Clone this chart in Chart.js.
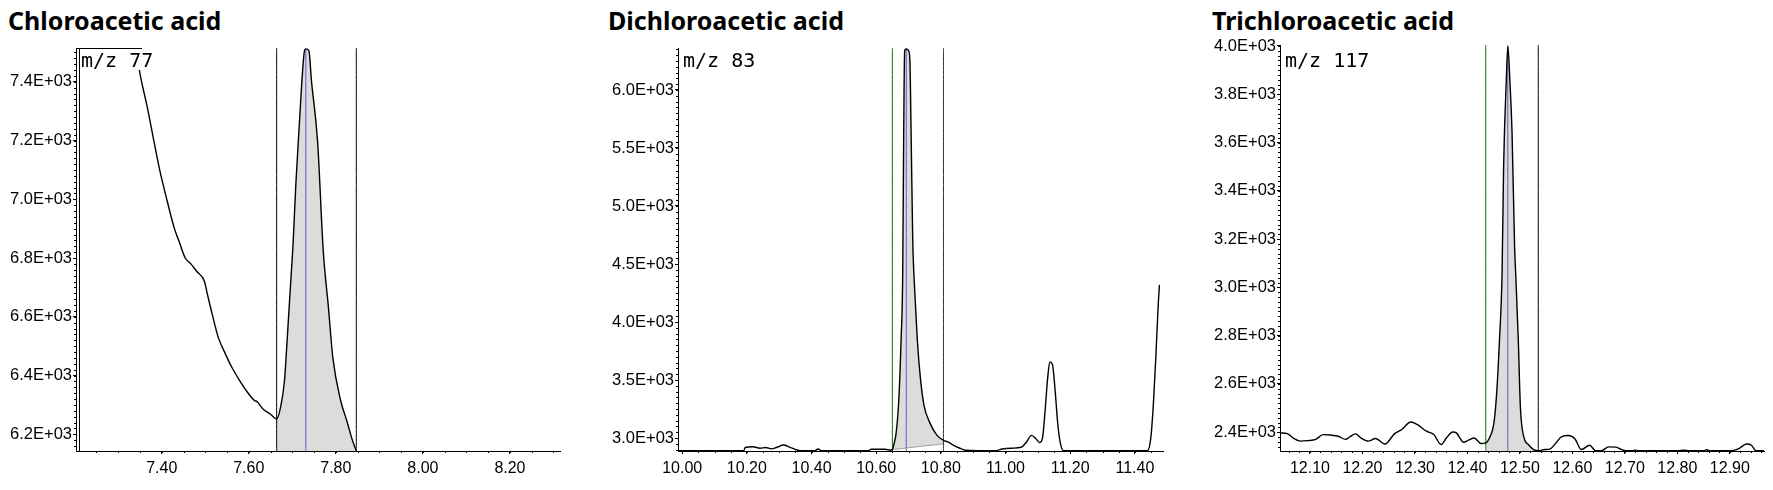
<!DOCTYPE html>
<html lang="en">
<head>
<meta charset="utf-8">
<title>Haloacetic acids - SIM chromatograms</title>
<script src="https://cdn.jsdelivr.net/npm/chart.js@4.4.1/dist/chart.umd.min.js"></script>
<style>
  body { margin: 0; background: #fff; width: 1773px; height: 490px; overflow: hidden; position: relative; }
  .title { position: absolute; top: 4px; font-family: "Noto Sans", sans-serif; font-weight: bold;
           font-size: 25px; line-height: 32px; color: #000; white-space: nowrap; }
  canvas { position: absolute; top: 0; }
</style>
</head>
<body>
  <div class="title" style="left:8px">Chloroacetic acid</div>
  <div class="title" style="left:608px">Dichloroacetic acid</div>
  <div class="title" style="left:1212px">Trichloroacetic acid</div>
  <canvas id="c1" width="590" height="490" style="left:0px"></canvas>
  <canvas id="c2" width="590" height="490" style="left:600px"></canvas>
  <canvas id="c3" width="573" height="490" style="left:1200px"></canvas>

<script>
// ---- Chloroacetic acid, m/z 77 ----
const time1 = [7.340, 7.351, 7.367, 7.382, 7.396, 7.409, 7.429, 7.440, 7.454, 7.467, 7.480, 7.498,
  7.505, 7.516, 7.530, 7.543, 7.561, 7.579, 7.597, 7.613, 7.619, 7.632, 7.650, 7.664, 7.673, 7.682,
  7.688, 7.695, 7.702, 7.708, 7.717, 7.722, 7.728, 7.731, 7.738, 7.744, 7.758, 7.771, 7.783, 7.793,
  7.811, 7.825, 7.838, 7.847];
const resp1 = [7520, 7420, 7312, 7198, 7095, 7015, 6901, 6856, 6800, 6780, 6755, 6721,
  6676, 6608, 6529, 6484, 6428, 6383, 6343, 6315, 6311, 6287, 6268, 6252, 6292, 6383,
  6518, 6687, 6856, 7049, 7278, 7403, 7506, 7512, 7506, 7403, 7198, 6826, 6631, 6462,
  6315, 6247, 6180, 6143];
const xTicks1 = [7.40, 7.60, 7.80, 8.00, 8.20];
const yTicks1 = [6200, 6400, 6600, 6800, 7000, 7200, 7400];

// ---- Dichloroacetic acid, m/z 83 ----
const time2 = [9.987, 10.190, 10.195, 10.218, 10.241, 10.258, 10.276, 10.293, 10.313, 10.333, 10.351,
  10.368, 10.410, 10.420, 10.431, 10.575, 10.585, 10.627, 10.644, 10.650, 10.654, 10.662, 10.670,
  10.677, 10.682, 10.685, 10.688, 10.693, 10.700, 10.704, 10.708, 10.713, 10.719, 10.727, 10.737,
  10.748, 10.765, 10.788, 10.808, 10.822, 10.840, 10.857, 10.875, 10.967, 10.990, 11.019, 11.048,
  11.065, 11.080, 11.094, 11.105, 11.114, 11.122, 11.130, 11.137, 11.145, 11.153, 11.162, 11.171,
  11.180, 11.439, 11.449, 11.457, 11.465, 11.472, 11.476];
const resp2 = [2890, 2890, 2918, 2924, 2912, 2918, 2906, 2920, 2940, 2920, 2900,
  2890, 2890, 2905, 2890, 2890, 2903, 2903, 2895, 2900, 2937, 3051, 3337,
  3850, 4420, 5620, 6340, 6354, 6340, 6268, 5620, 4705, 4278, 3850, 3508,
  3279, 3137, 3023, 2980, 2966, 2937, 2914, 2895, 2890, 2905, 2912, 2920,
  2966, 3023, 2994, 2960, 2994, 3222, 3508, 3656, 3636, 3422, 3108, 2937,
  2890, 2890, 2994, 3279, 3707, 4135, 4320];
const baseTime2 = [10.650, 10.808];
const baseResp2 = [2900, 2950];
const xTicks2 = [10.00, 10.20, 10.40, 10.60, 10.80, 11.00, 11.20, 11.40];
const yTicks2 = [3000, 3500, 4000, 4500, 5000, 5500, 6000];

// ---- Trichloroacetic acid, m/z 117 ----
const time3 = [12.043, 12.057, 12.068, 12.082, 12.096, 12.111, 12.125, 12.139, 12.154, 12.168, 12.175,
  12.187, 12.197, 12.211, 12.225, 12.243, 12.261, 12.275, 12.292, 12.304, 12.322, 12.336, 12.350,
  12.360, 12.372, 12.379, 12.393, 12.402, 12.413, 12.426, 12.435, 12.442, 12.451, 12.456, 12.461,
  12.466, 12.469, 12.474, 12.477, 12.481, 12.485, 12.490, 12.492, 12.497, 12.501, 12.508, 12.516,
  12.526, 12.535, 12.547, 12.558, 12.569, 12.579, 12.592, 12.605, 12.617, 12.633, 12.644, 12.655,
  12.669, 12.683, 12.694, 12.701, 12.714, 12.719, 12.726, 12.801, 12.812, 12.823, 12.851, 12.855,
  12.862, 12.901, 12.916, 12.932, 12.941, 12.950, 12.965];
const resp3 = [2397, 2394, 2376, 2363, 2365, 2370, 2390, 2388, 2383, 2370, 2379,
  2393, 2376, 2363, 2374, 2351, 2393, 2411, 2442, 2432, 2404, 2390, 2349,
  2376, 2401, 2397, 2358, 2367, 2376, 2353, 2356, 2376, 2446, 2570, 2778,
  3056, 3504, 3853, 4000, 3853, 3644, 3162, 3056, 2778, 2501, 2376, 2349,
  2328, 2323, 2328, 2331, 2356, 2381, 2386, 2372, 2328, 2346, 2323, 2323,
  2339, 2338, 2328, 2323, 2323, 2325, 2323, 2323, 2325, 2323, 2323, 2327,
  2323, 2323, 2331, 2351, 2346, 2323, 2323];
const xTicks3 = [12.10, 12.20, 12.30, 12.40, 12.50, 12.60, 12.70, 12.80, 12.90];
const yTicks3 = [2400, 2600, 2800, 3000, 3200, 3400, 3600, 3800, 4000];

// integration marks (start, end, apex) and ion labels
const ionLabels = ["m/z 77", "m/z 83", "m/z 117"];
const startTimes = [7.664, 10.650, 12.435];
const endTimes = [7.847, 10.808, 12.535];
const apexTimes = [7.731, 10.693, 12.477];
const apexResp = [7512, 6354, 4000];

function sciLabel(v) {
  const e = Math.floor(Math.log10(v));
  return (v / Math.pow(10, e)).toFixed(1) + 'E+' + String(e).padStart(2, '0');
}

// minor ticks, ion label, double axis line
const decor = {
  id: 'decor',
  afterDatasetsDraw(chart, args, o) {
    const { ctx, chartArea: a, scales: { x, y } } = chart;
    ctx.save();
    ctx.strokeStyle = '#000';
    ctx.lineWidth = 1;
    ctx.beginPath();
    for (let i = Math.ceil(y.min / o.yMinor); i * o.yMinor <= y.max; i++) {
      const py = Math.round(y.getPixelForValue(i * o.yMinor)) + 0.5;
      ctx.moveTo(a.left - 2, py); ctx.lineTo(a.left, py);
    }
    for (let i = Math.ceil(x.min / o.xMinor); i * o.xMinor <= x.max; i++) {
      const px = Math.round(x.getPixelForValue(i * o.xMinor)) + 0.5;
      ctx.moveTo(px, a.bottom); ctx.lineTo(px, a.bottom + 2);
    }
    ctx.stroke();
    if (o.box) {
      // white label box with a top border, plus the second axis line
      ctx.fillStyle = '#fff';
      ctx.fillRect(a.left + 4, a.top + 1, o.box - 4, 21);
      ctx.beginPath();
      ctx.moveTo(a.left, a.top + 0.5); ctx.lineTo(a.left + o.box, a.top + 0.5);
      ctx.moveTo(a.left + 3.5, a.top); ctx.lineTo(a.left + 3.5, a.bottom);
      ctx.stroke();
    }
    ctx.fillStyle = '#000';
    ctx.font = '20px "DejaVu Sans Mono", monospace';
    ctx.textBaseline = 'alphabetic';
    ctx.fillText(o.label, a.left + 5, a.top + o.labelY);
    ctx.restore();
  }
};

function makeChart(id, p) {
  const curve = p.time.map((t, i) => ({ x: t, y: p.resp[i] }));
  const area = curve.filter(d => d.x >= p.start - 1e-9 && d.x <= p.end + 1e-9);
  const datasets = [
    { data: curve, borderColor: '#000', borderWidth: 1.4, order: 0 },
    { data: [{ x: p.apex, y: p.yMin }, { x: p.apex, y: p.apexY }], borderColor: '#5a5ad2', borderWidth: 1, order: 1 },
    { data: [{ x: p.start, y: p.yMin }, { x: p.start, y: p.yMax }], borderColor: p.startColor, borderWidth: 1, order: 2 },
    { data: [{ x: p.end, y: p.yMin }, { x: p.end, y: p.yMax }], borderColor: p.endColor, borderWidth: 1, order: 2 },
    { data: area, borderColor: 'rgba(0,0,0,0)', borderWidth: 0, backgroundColor: '#dcdcdc',
      fill: p.base ? 5 : 'start', order: 5 }
  ];
  if (p.base) {
    datasets.push({ data: p.base, borderColor: '#a0a0a0', borderWidth: 1, order: 4 });
  }
  const family = "'Liberation Sans', Arial, sans-serif";
  return new Chart(document.getElementById(id), {
    type: 'line',
    data: { datasets },
    plugins: [decor],
    options: {
      responsive: false,
      animation: false,
      devicePixelRatio: 1,
      layout: { padding: { left: p.padL, top: p.top, right: p.padR, bottom: 0 } },
      elements: { point: { radius: 0 }, line: { cubicInterpolationMode: 'monotone' } },
      plugins: {
        legend: { display: false },
        tooltip: { enabled: false },
        decor: { xMinor: p.xMinor, yMinor: p.yMinor, label: p.label, labelY: p.labelY, box: p.box }
      },
      scales: {
        x: {
          type: 'linear', min: p.xMin, max: p.xMax,
          afterFit: s => { s.height = 490 - p.bottom; },
          afterBuildTicks: s => { s.ticks = p.xTicks.map(v => ({ value: v })); },
          ticks: { callback: v => v.toFixed(2), color: '#000', font: { family, size: 16 }, padding: 5,
                   autoSkip: false, maxRotation: 0, minRotation: 0 },
          grid: { display: true, drawOnChartArea: false, drawTicks: true, tickLength: 3, color: '#000' },
          border: { display: true, color: '#000', width: 1 }
        },
        y: {
          type: 'linear', min: p.yMin, max: p.yMax,
          afterFit: s => { s.width = 70; },
          afterBuildTicks: s => { s.ticks = p.yTicks.map(v => ({ value: v })); },
          ticks: { callback: v => sciLabel(v), color: '#000', font: { family, size: 16.5 }, padding: 1,
                   autoSkip: false },
          grid: { display: true, drawOnChartArea: false, drawTicks: true, tickLength: 3, color: '#000' },
          border: { display: true, color: '#000', width: 1 }
        }
      }
    }
  });
}

makeChart('c1', {
  time: time1, resp: resp1, xTicks: xTicks1, yTicks: yTicks1,
  xMin: 7.203, xMax: 8.315, yMin: 6143, yMax: 7515,
  padL: 6, padR: 30, top: 48, bottom: 451, xMinor: 0.05, yMinor: 20,
  start: startTimes[0], end: endTimes[0], apex: apexTimes[0], apexY: apexResp[0],
  startColor: '#000', endColor: '#000', label: ionLabels[0], labelY: 19, box: 66
});
makeChart('c2', {
  time: time2, resp: resp2, xTicks: xTicks2, yTicks: yTicks2,
  xMin: 9.987, xMax: 11.487, yMin: 2888, yMax: 6362,
  padL: 8, padR: 27, top: 48, bottom: 451, xMinor: 0.05, yMinor: 50,
  start: startTimes[1], end: endTimes[1], apex: apexTimes[1], apexY: apexResp[1],
  startColor: '#0a6e0a', endColor: '#1c3f1c', label: ionLabels[1], labelY: 19,
  base: baseTime2.map((t, i) => ({ x: t, y: baseResp2[i] }))
});
makeChart('c3', {
  time: time3, resp: resp3, xTicks: xTicks3, yTicks: yTicks3,
  xMin: 12.043, xMax: 12.965, yMin: 2322, yMax: 4004,
  padL: 10, padR: 9, top: 45, bottom: 451, xMinor: 0.02, yMinor: 20,
  start: startTimes[2], end: endTimes[2], apex: apexTimes[2], apexY: apexResp[2],
  startColor: '#0a6e0a', endColor: '#000', label: ionLabels[2], labelY: 22
});
</script>
</body>
</html>
